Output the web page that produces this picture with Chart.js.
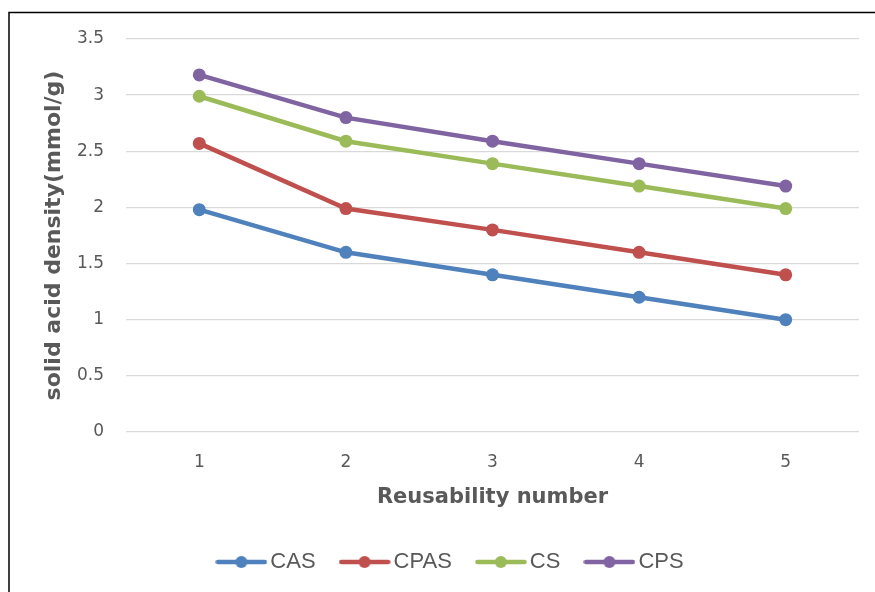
<!DOCTYPE html>
<html>
<head>
<meta charset="utf-8">
<script src="https://cdn.jsdelivr.net/npm/chart.js@4/dist/chart.umd.min.js"></script>
<style>
  html, body { margin: 0; padding: 0; background: #fff; overflow: hidden; }
  #wrap { position: relative; width: 875px; height: 592px; }
</style>
</head>
<body>
<div id="wrap"><canvas id="c" width="875" height="592"></canvas></div>
<script>
// Reuse cycles and the acid density measured after each one
const categories = ['1', '2', '3', '4', '5'];
const seriesNames = ['CAS', 'CPAS', 'CS', 'CPS'];
const casValues  = [1.98, 1.60, 1.40, 1.20, 1.00];
const cpasValues = [2.57, 1.99, 1.80, 1.60, 1.40];
const csValues   = [2.99, 2.59, 2.39, 2.19, 1.99];
const cpsValues  = [3.18, 2.80, 2.59, 2.39, 2.19];
const yTickMin = 0, yTickMax = 3.5, yTickStep = 0.5;

const seriesColors = ['#4F81BD', '#C0504D', '#9BBB59', '#8064A2'];
const seriesValues = [casValues, cpasValues, csValues, cpsValues];
const textGray = '#595959';

// Legend swatch: a short line with a round marker in the middle
function legendIcon(color) {
  const c = document.createElement('canvas');
  c.width = 52; c.height = 14;
  const g = c.getContext('2d');
  g.strokeStyle = color; g.lineWidth = 4.5; g.lineCap = 'round';
  g.beginPath(); g.moveTo(2.5, 7); g.lineTo(49.5, 7); g.stroke();
  g.fillStyle = color;
  g.beginPath(); g.arc(26, 7, 6, 0, Math.PI * 2); g.fill();
  return c;
}
const icons = seriesColors.map(legendIcon);

// Outer chart frame
const framePlugin = {
  id: 'frame',
  beforeDraw(chart) {
    const ctx = chart.ctx;
    ctx.save();
    ctx.strokeStyle = '#000';
    ctx.lineWidth = 1.5;
    ctx.strokeRect(9, 12.5, 1200, 1200);
    ctx.restore();
  }
};

// Nudge the legend row so it sits centred under the whole chart frame
const legendShift = {
  id: 'legendShift',
  afterLayout(chart) {
    const lg = chart.legend;
    if (!lg) return;
    lg.left += 24;
    lg.right += 24;
  }
};

new Chart(document.getElementById('c'), {
  type: 'line',
  data: {
    labels: categories,
    datasets: seriesNames.map((name, i) => ({
      label: name,
      data: seriesValues[i],
      borderColor: seriesColors[i],
      backgroundColor: seriesColors[i],
      pointBackgroundColor: seriesColors[i],
      pointBorderColor: seriesColors[i],
      borderWidth: 4.5,
      pointRadius: 6.5,
      pointHoverRadius: 6.5,
      pointBorderWidth: 0,
      tension: 0,
      fill: false
    }))
  },
  options: {
    responsive: false,
    devicePixelRatio: 1,
    animation: false,
    layout: { padding: { top: 39, right: 16, bottom: 9, left: 0 } },
    plugins: {
      tooltip: { enabled: false },
      legend: {
        position: 'bottom',
        labels: {
          usePointStyle: true,
          pointStyleWidth: 36,
          padding: 31,
          color: textGray,
          font: { family: 'Liberation Sans', size: 22 },
          generateLabels(chart) {
            const items = Chart.defaults.plugins.legend.labels.generateLabels(chart);
            items.forEach((it, i) => { it.pointStyle = icons[i]; });
            return items;
          }
        }
      }
    },
    scales: {
      x: {
        type: 'category',
        offset: true,
        grid: { display: false, drawTicks: false },
        border: { display: false },
        ticks: {
          color: textGray,
          padding: 20,
          font: { family: 'DejaVu Sans', size: 17 }
        },
        title: {
          display: true,
          text: 'Reusability number',
          color: textGray,
          font: { family: 'DejaVu Sans', size: 21, weight: 'bold' },
          padding: { top: 0, bottom: 10 }
        },
        afterFit(scale) { scale.height = 88; }
      },
      y: {
        min: yTickMin,
        max: yTickMax,
        grid: { color: '#D9D9D9', lineWidth: 1.3, drawTicks: false },
        border: { display: false },
        ticks: {
          stepSize: yTickStep,
          color: textGray,
          padding: 22,
          font: { family: 'DejaVu Sans', size: 17 },
          callback: (v) => String(Math.round(v * 10) / 10)
        },
        title: {
          display: true,
          text: 'solid acid density(mmol/g)',
          color: textGray,
          font: { family: 'DejaVu Sans', size: 22, weight: 'bold' },
          padding: { top: 41, bottom: 0 }
        },
        afterFit(scale) { scale.width = 126; }
      }
    }
  },
  plugins: [framePlugin, legendShift]
});
</script>
</body>
</html>
